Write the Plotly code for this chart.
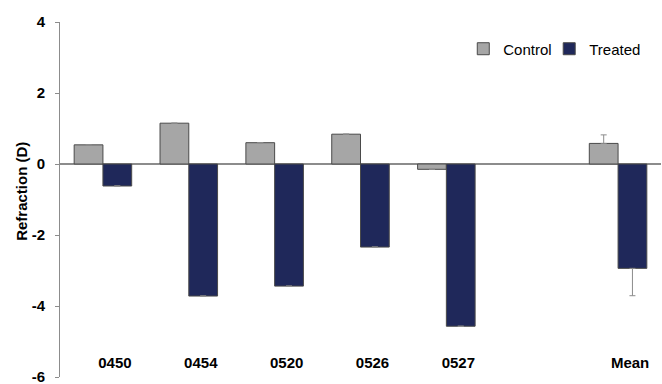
import plotly.graph_objects as go

# Refraction per animal (dioptres), plus group mean with SD
categories = ["0450", "0454", "0520", "0526", "0527", " ", "Mean"]
control = [0.54, 1.15, 0.60, 0.84, -0.15, None, 0.58]
treated = [-0.62, -3.72, -3.44, -2.34, -4.57, None, -2.94]
control_err_up = [None, None, None, None, None, None, 0.24]
treated_err_down = [None, None, None, None, None, None, 0.77]

y_ticks = [4, 2, 0, -2, -4, -6]

FONT = "Liberation Sans, Arial, sans-serif"
CONTROL_FILL = "#a6a6a6"
TREATED_FILL = "#1f285a"
EDGE = "#4a4a4a"
GRID = "#8c8c8c"


def other_side(errs):
    # zero-length opposite arm only where an error bar is drawn
    return [0 if e is not None else None for e in errs]


fig = go.Figure()

fig.add_trace(go.Bar(
    name="Control",
    x=categories,
    y=control,
    legend="legend",
    marker=dict(color=CONTROL_FILL, line=dict(color=EDGE, width=1)),
    error_y=dict(
        type="data",
        symmetric=False,
        array=control_err_up,
        arrayminus=other_side(control_err_up),
        color=GRID,
        thickness=1,
        width=3,
    ),
))

fig.add_trace(go.Bar(
    name="Treated",
    x=categories,
    y=treated,
    legend="legend2",
    marker=dict(color=TREATED_FILL, line=dict(color=EDGE, width=1)),
    error_y=dict(
        type="data",
        symmetric=False,
        array=other_side(treated_err_down),
        arrayminus=treated_err_down,
        color=GRID,
        thickness=1,
        width=3,
    ),
))

legend_style = dict(
    orientation="h",
    y=0.924,
    xanchor="left",
    yanchor="middle",
    font=dict(family=FONT, size=15, color="#000000"),
    bgcolor="rgba(0,0,0,0)",
)

fig.update_layout(
    width=662,
    height=384,
    margin=dict(l=60, r=1, t=22, b=7.3, autoexpand=False),
    paper_bgcolor="white",
    plot_bgcolor="white",
    barmode="group",
    bargap=0.33,
    bargroupgap=0,
    font=dict(family=FONT, size=15, color="#000000"),
    showlegend=True,
    legend=dict(x=0.671, **legend_style),
    legend2=dict(x=0.814, **legend_style),
    xaxis=dict(
        type="category",
        categoryorder="array",
        categoryarray=categories,
        automargin=False,
        anchor="free",
        position=0.07,
        side="bottom",
        showline=False,
        showgrid=False,
        zeroline=False,
        ticks="",
        ticklabelshift=12,
        ticklabeloverflow="allow",
        tickfont=dict(family=FONT, size=15, color="#000000", weight="bold"),
    ),
    yaxis=dict(
        range=[-6, 4],
        automargin=False,
        tickvals=y_ticks,
        ticktext=[str(v) for v in y_ticks],
        showgrid=False,
        showline=True,
        linecolor=GRID,
        linewidth=1,
        zeroline=True,
        zerolinecolor=GRID,
        zerolinewidth=1.5,
        ticks="outside",
        ticklen=4,
        tickcolor=GRID,
        ticklabelstandoff=7,
        ticklabeloverflow="allow",
        tickfont=dict(family=FONT, size=15, color="#000000", weight="bold"),
    ),
    annotations=[
        dict(
            text="Refraction (D)",
            textangle=-90,
            xref="paper",
            yref="paper",
            x=(22 - 60) / 601,
            y=(376.7 - 191.7) / 354.7,
            xanchor="center",
            yanchor="middle",
            showarrow=False,
            font=dict(family=FONT, size=15, color="#000000", weight="bold"),
        )
    ],
)

fig.write_html("out.html")
